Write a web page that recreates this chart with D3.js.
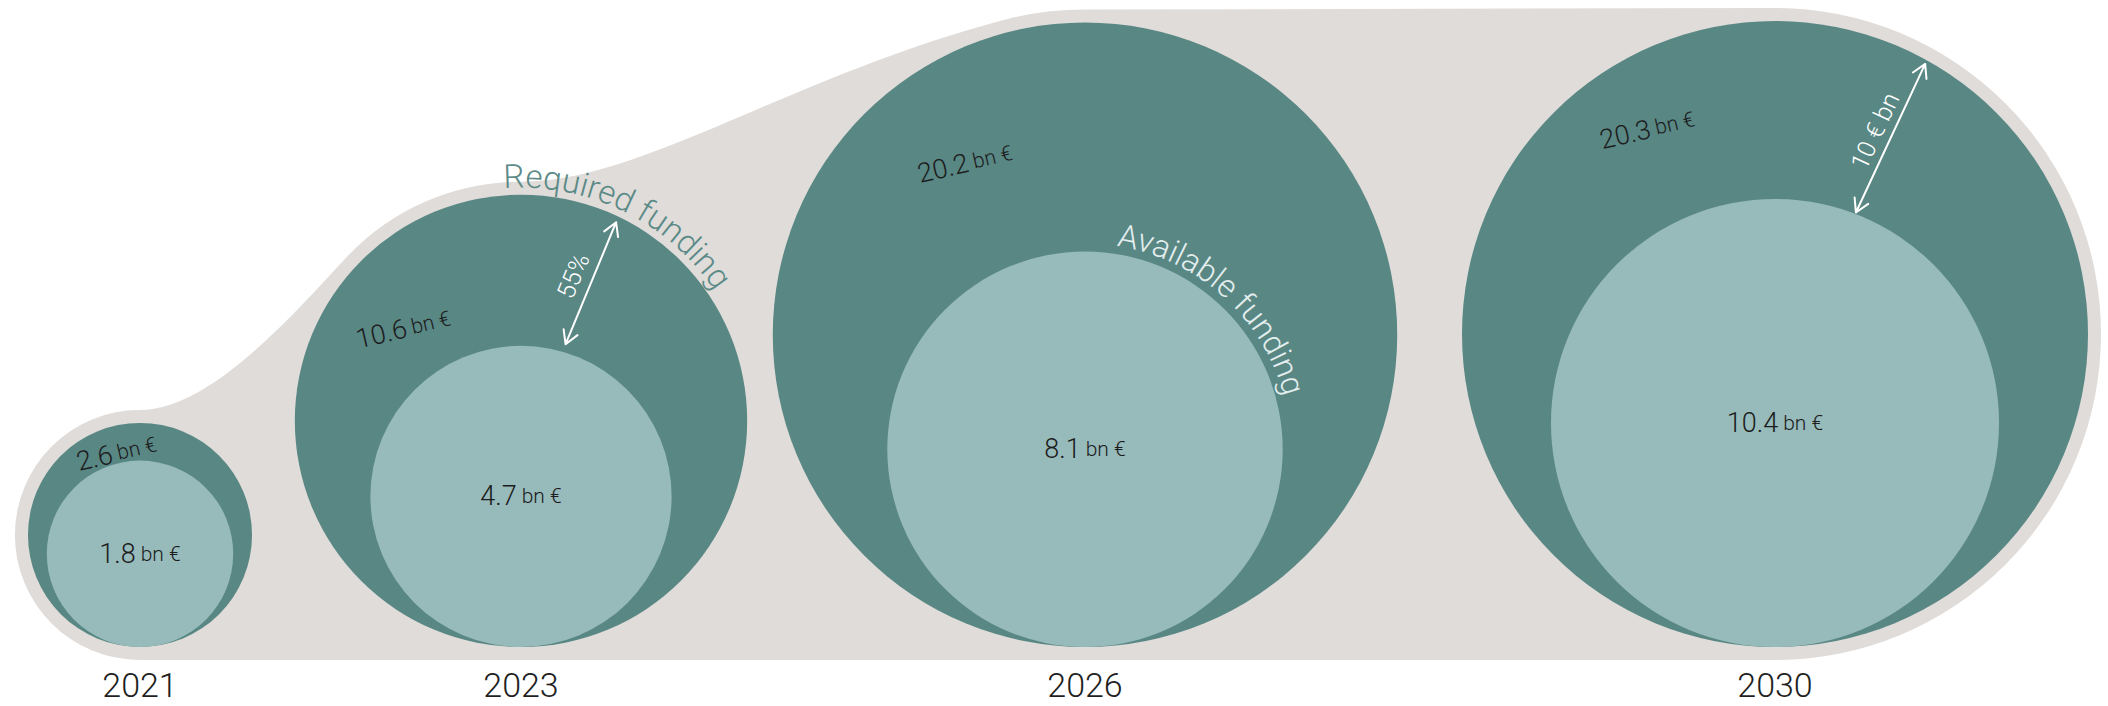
<!DOCTYPE html>
<html>
<head>
<meta charset="utf-8">
<script src="https://cdn.jsdelivr.net/npm/d3@7"></script>
<style>
  html, body { margin: 0; padding: 0; background: #ffffff; }
  svg { display: block; }
  text { font-family: Roboto, "Open Sans", Lato, sans-serif; font-weight: 300; }
</style>
</head>
<body>
<svg id="chart" width="2108" height="706"></svg>
<script>
// ---- data -------------------------------------------------------------
const years = [2021, 2023, 2026, 2030];
const requiredFunding = [2.6, 10.6, 20.2, 20.3];   // bn €
const availableFunding = [1.8, 4.7, 8.1, 10.4];    // bn €
const unitLabel = "bn €";
const seriesNames = ["Required funding", "Available funding"];
const gapNotes = [
  { year: 2023, text: "55%" },
  { year: 2030, text: "10 € bn" }
];

// ---- layout -----------------------------------------------------------
const W = 2108, H = 706;
const baseY = 647;          // all circles rest on this line
const pad = 13;             // grey band around the circles
const C = {
  required: "#598784",
  available: "#97babb",
  blob: "#dfdcd9",
  value: "#1c1c1c",
  year: "#1f1f1f",
  requiredLabel: "#5b8a87",
  availableLabel: "#e3eeee",
  note: "#ffffff"
};

// year positions and area-true radius scale
const x = d3.scaleLinear().domain(years).range([140, 521, 1085, 1775]);
const r = d3.scaleSqrt().domain([0, d3.max(requiredFunding)]).range([0, 313]);

// where the outer (required) value label sits inside each ring
const ringLabelAngle = [-16, -52, -35, -32];    // degrees from the top
const ringLabelDepth = [0.76, 0.66, 0.67, 0.77]; // share of outer radius
const ringLabelTilt = -13;

// arrow geometry per note: start angle on inner circle, direction, gaps
const noteLayout = {
  2023: { start: 16, dir: 22.5, gapIn: 8, gapOut: 6, offset: 19 },
  2030: { start: 21, dir: 25, gapIn: 1.5, gapOut: 4, offset: 17 }
};

const nodes = years.map((yr, i) => {
  const R = r(requiredFunding[i]);
  const ri = r(availableFunding[i]);
  return {
    year: yr, i,
    cx: x(yr),
    R, cy: baseY - R,
    ri, cyi: baseY - ri,
    req: requiredFunding[i], avail: availableFunding[i]
  };
});
const byYear = new Map(nodes.map(n => [n.year, n]));

const svg = d3.select("#chart");
const defs = svg.append("defs");

// ---- background blob enveloping the circles ---------------------------
const rad = d => d * Math.PI / 180;
const onCircle = (cx, cy, rr, a) => [cx + rr * Math.cos(a), cy + rr * Math.sin(a)];
const tangentCW = a => [-Math.sin(a), Math.cos(a)];

(function drawBlob() {
  const [n0, n1, n2, n3] = nodes;
  const R0 = n0.R + pad, R1 = n1.R + pad, R2 = n2.R + pad, R3 = n3.R + pad;
  const p = d3.path();

  const top0 = [n0.cx, n0.cy - R0];
  p.moveTo(top0[0], top0[1]);

  // neck from the first to the second circle
  const a1 = rad(-137);
  const J1 = onCircle(n1.cx, n1.cy, R1, a1);
  const T1 = tangentCW(a1);
  p.bezierCurveTo(top0[0] + 70, top0[1],
                  J1[0] - 80 * T1[0], J1[1] - 80 * T1[1],
                  J1[0], J1[1]);
  p.arc(n1.cx, n1.cy, R1, a1, -Math.PI / 2);

  // rising swoop to the third circle
  const top1 = [n1.cx, n1.cy - R1];
  const a2 = rad(-105);
  const J2 = onCircle(n2.cx, n2.cy, R2, a2);
  const T2 = tangentCW(a2);
  p.bezierCurveTo(top1[0] + 120, top1[1],
                  J2[0] - 220 * T2[0], J2[1] - 220 * T2[1],
                  J2[0], J2[1]);
  p.arc(n2.cx, n2.cy, R2, a2, -Math.PI / 2);

  // flat top to the last circle, around its right side, flat bottom back
  p.lineTo(n3.cx, n3.cy - R3);
  p.arc(n3.cx, n3.cy, R3, -Math.PI / 2, Math.PI / 2);
  p.lineTo(n0.cx, n0.cy + R0);
  p.arc(n0.cx, n0.cy, R0, Math.PI / 2, 3 * Math.PI / 2);
  p.closePath();

  svg.append("path").attr("d", p.toString()).attr("fill", C.blob);
})();

// ---- circles ----------------------------------------------------------
const g = svg.append("g");
g.selectAll("circle.required").data(nodes).join("circle")
  .attr("class", "required")
  .attr("cx", d => d.cx).attr("cy", d => d.cy).attr("r", d => d.R)
  .attr("fill", C.required);

g.selectAll("circle.available").data(nodes).join("circle")
  .attr("class", "available")
  .attr("cx", d => d.cx).attr("cy", d => d.cyi).attr("r", d => d.ri)
  .attr("fill", C.available);

// ---- value labels -----------------------------------------------------
const fmt = d3.format(".1f");
function valueText(sel, v) {
  sel.append("tspan").attr("font-size", 27).text(fmt(v));
  sel.append("tspan").attr("font-size", 21).attr("dx", 5).text(unitLabel);
}

// available (inner) values at the centre of the inner circles
g.selectAll("text.avail").data(nodes).join("text")
  .attr("class", "avail")
  .attr("x", d => d.cx).attr("y", d => d.cyi)
  .attr("text-anchor", "middle")
  .attr("dominant-baseline", "central")
  .attr("fill", C.value)
  .each(function (d) { valueText(d3.select(this), d.avail); });

// required (outer) values inside the ring
g.selectAll("text.req").data(nodes).join("text")
  .attr("class", "req")
  .attr("transform", d => {
    const a = rad(ringLabelAngle[d.i]);
    const dist = ringLabelDepth[d.i] * d.R;
    const px = d.cx + dist * Math.sin(a);
    const py = d.cy - dist * Math.cos(a);
    return `translate(${px},${py}) rotate(${ringLabelTilt})`;
  })
  .attr("text-anchor", "middle")
  .attr("dominant-baseline", "central")
  .attr("fill", C.value)
  .each(function (d) { valueText(d3.select(this), d.req); });

// ---- year labels ------------------------------------------------------
svg.selectAll("text.year").data(nodes).join("text")
  .attr("class", "year")
  .attr("x", d => d.cx).attr("y", 697)
  .attr("text-anchor", "middle")
  .attr("font-size", 34)
  .attr("fill", C.year)
  .text(d => d.year);

// ---- curved series labels --------------------------------------------
function arcPathAround(cx, cy, rr, centreFromTop) {
  const c = rad(centreFromTop - 90);
  const a0 = c - Math.PI / 2, a1 = c + Math.PI / 2;
  const p = d3.path();
  const s = onCircle(cx, cy, rr, a0);
  p.moveTo(s[0], s[1]);
  p.arc(cx, cy, rr, a0, a1);
  return p.toString();
}

const nReq = byYear.get(2023);
defs.append("path").attr("id", "reqArc")
  .attr("d", arcPathAround(nReq.cx, nReq.cy, nReq.R + 7, 26));
svg.append("text")
  .attr("font-size", 33).attr("fill", C.requiredLabel)
  .append("textPath").attr("href", "#reqArc")
  .attr("startOffset", "50%").attr("text-anchor", "middle")
  .text(seriesNames[0]);

const nAv = byYear.get(2026);
defs.append("path").attr("id", "availArc")
  .attr("d", arcPathAround(nAv.cx, nAv.cyi, nAv.ri + 8, 42));
svg.append("text")
  .attr("font-size", 32).attr("fill", C.availableLabel)
  .append("textPath").attr("href", "#availArc")
  .attr("startOffset", "50%").attr("text-anchor", "middle")
  .text(seriesNames[1]);

// ---- gap arrows -------------------------------------------------------
const notes = svg.append("g")
  .attr("stroke", C.note).attr("stroke-width", 2)
  .attr("fill", "none").attr("stroke-linecap", "round").attr("stroke-linejoin", "round");

gapNotes.forEach(note => {
  const n = byYear.get(note.year);
  const L = noteLayout[note.year];
  const sa = rad(L.start), da = rad(L.dir);
  const dir = [Math.sin(da), -Math.cos(da)];
  const edge = [n.cx + n.ri * Math.sin(sa), n.cyi - n.ri * Math.cos(sa)];
  const S = [edge[0] + L.gapIn * dir[0], edge[1] + L.gapIn * dir[1]];
  // where the ray leaves the outer circle
  const ox = S[0] - n.cx, oy = S[1] - n.cy;
  const b = ox * dir[0] + oy * dir[1];
  const c = ox * ox + oy * oy - n.R * n.R;
  const t = -b + Math.sqrt(b * b - c) - L.gapOut;
  const E = [S[0] + t * dir[0], S[1] + t * dir[1]];

  const head = (tip, d) => {
    const arm = 15, spread = rad(30);
    const back = Math.atan2(-d[1], -d[0]);
    return [back - spread, back + spread].map(a =>
      `M${tip[0] + arm * Math.cos(a)},${tip[1] + arm * Math.sin(a)}L${tip[0]},${tip[1]}`).join("");
  };

  notes.append("path")
    .attr("d", `M${S[0]},${S[1]}L${E[0]},${E[1]}` + head(E, dir) + head(S, [-dir[0], -dir[1]]));

  const mid = [(S[0] + E[0]) / 2, (S[1] + E[1]) / 2];
  const normal = [dir[1], -dir[0]];
  const lp = [mid[0] + L.offset * normal[0], mid[1] + L.offset * normal[1]];
  const ang = Math.atan2(dir[1], dir[0]) * 180 / Math.PI;
  svg.append("text")
    .attr("transform", `translate(${lp[0]},${lp[1]}) rotate(${ang})`)
    .attr("text-anchor", "middle").attr("dominant-baseline", "central")
    .attr("font-size", 25).attr("fill", C.note)
    .text(note.text);
});
</script>
</body>
</html>
